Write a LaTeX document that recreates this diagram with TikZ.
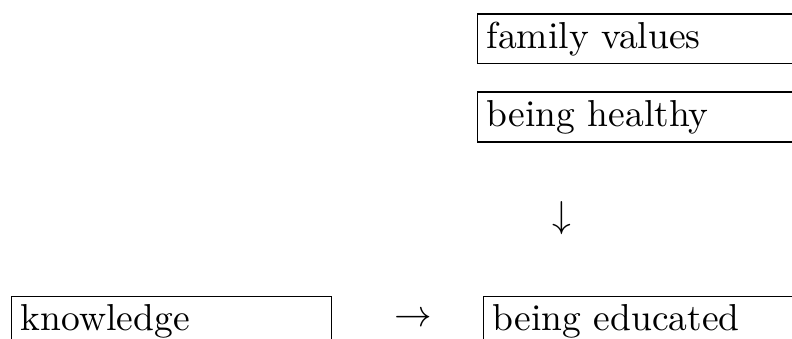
\documentclass[tikz,border=0pt]{standalone}
\usetikzlibrary{positioning}

\begin{document}
\begin{tikzpicture}[
  valbox/.style={draw=black, anchor=north west, minimum width=3cm, minimum height=13.3pt,
                 inner xsep=2.5pt, inner ysep=2pt, text width=3cm-5pt, align=left,
                 text height=6.94pt, text depth=1.94pt},
  glyph/.style={inner sep=0pt}
]
% frame of the page, everything sticking out is cut off
\useasboundingbox (0pt,0pt) rectangle (211.2pt,-90.4pt);
\clip (0pt,0pt) rectangle (211.2pt,-90.4pt);
% upper column
\node[valbox] (fam) at (127.1pt,-3.5pt) {family values};
\node[valbox, below=7.2pt of fam.south west, anchor=north west] (heal) {being healthy};
\node[glyph] (down) at (149.7pt,-58.1pt) {$\downarrow$};
% bottom row
\node[valbox] (know) at (2.9pt,-78.9pt) {knowledge};
\node[valbox] (edu) at (128.7pt,-78.9pt) {being educated};
\node[glyph] (toarr) at (110.1pt,-85.3pt) {$\rightarrow$};
\end{tikzpicture}
\end{document}
